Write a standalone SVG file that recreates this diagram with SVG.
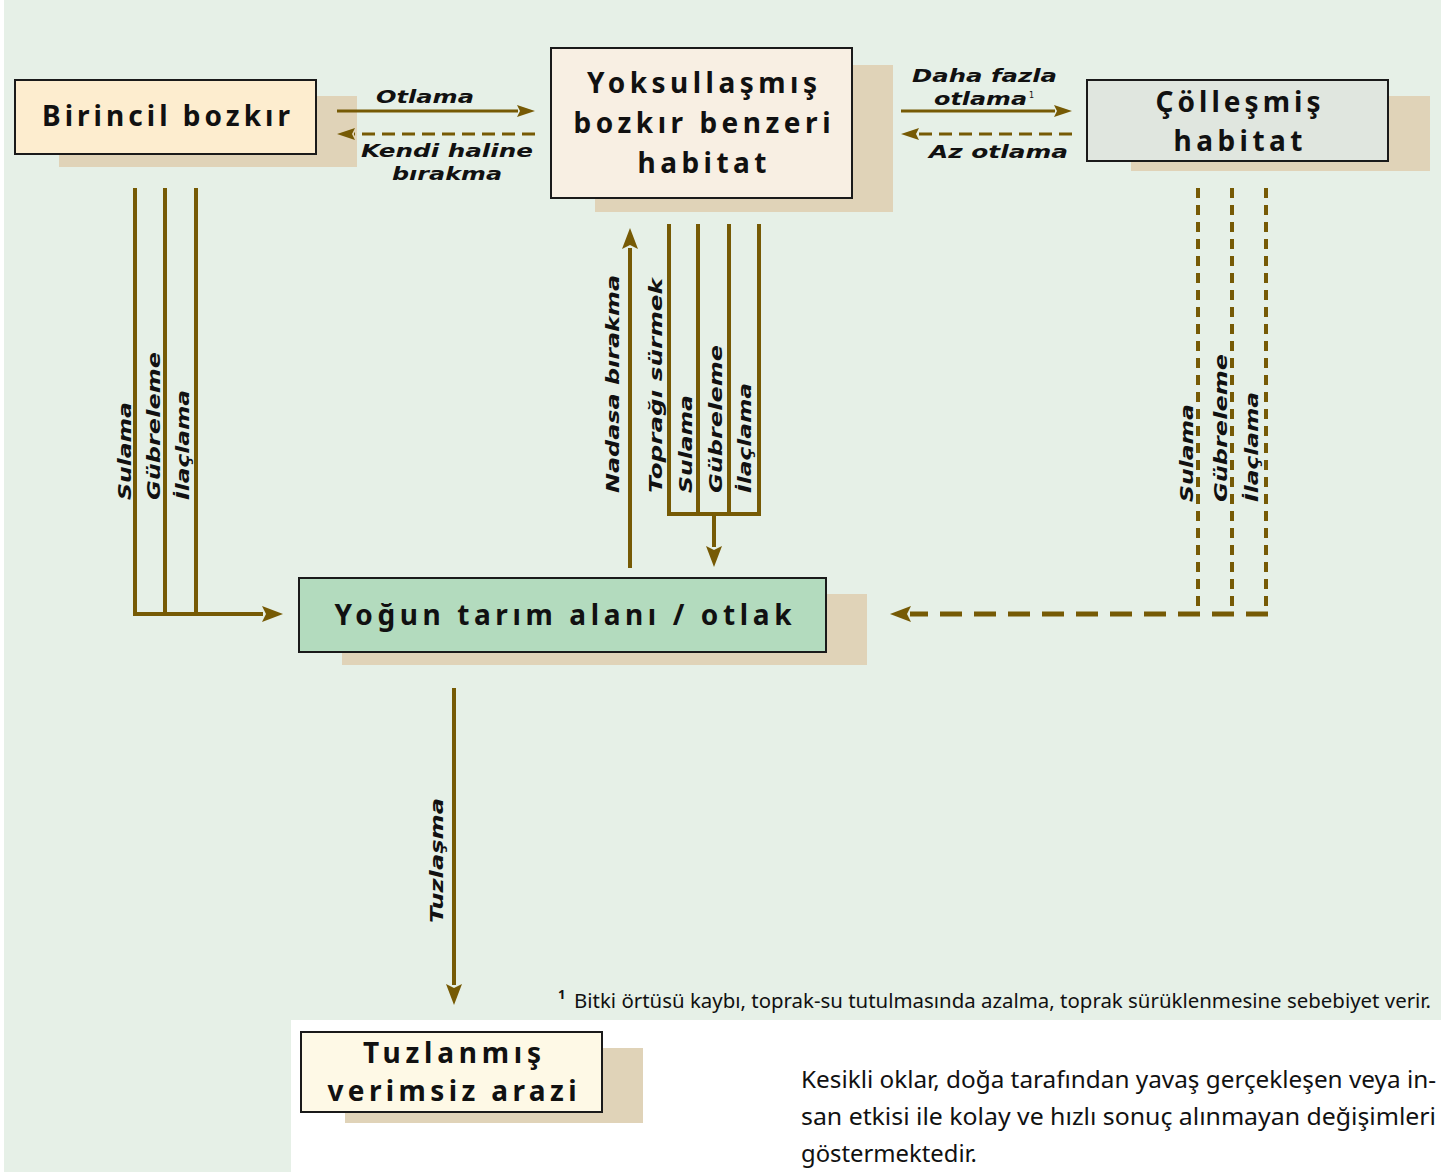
<svg xmlns="http://www.w3.org/2000/svg" width="1446" height="1172" viewBox="0 0 1446 1172">
<style>
.bg{fill:#e6f0e7}
.sh{fill:#e0d3b8}
.box{stroke:#1a1a1a;stroke-width:2}
.t{font-family:"Noto Sans","Open Sans",sans-serif;font-weight:bold;font-size:28px;fill:#111;text-anchor:middle}
.lab{font-family:"DejaVu Sans","Liberation Sans",sans-serif;font-weight:bold;font-style:italic;font-size:18px;fill:#111}
.sup{font-family:"DejaVu Sans","Liberation Sans",sans-serif;font-size:8px;fill:#111}
.ln{stroke:#765a05;fill:none}
.thin{stroke-width:3}
.thick{stroke-width:4}
.note{font-family:"Noto Sans","Open Sans",sans-serif;fill:#111}
</style>
<defs>
<marker id="ahS" viewBox="-2 -10 26 20" markerWidth="26" markerHeight="20" refX="1" refY="0" orient="auto" markerUnits="userSpaceOnUse">
<path d="M0,-6 L18,0 L0,6 L3,0 z" fill="#765a05"/>
</marker>
<marker id="ahB" viewBox="-2 -10 26 20" markerWidth="26" markerHeight="20" refX="1" refY="0" orient="auto" markerUnits="userSpaceOnUse">
<path d="M0,-8 L21,0 L0,8 L4,0 z" fill="#765a05"/>
</marker>
</defs>
<rect width="1446" height="1172" fill="#fff"/>
<rect class="bg" x="4" y="0" width="1437" height="1020"/>
<rect class="bg" x="4" y="1020" width="287" height="152"/>

<g id="birincil-bozkir">
<rect class="sh" x="59" y="96" width="298" height="71"/>
<rect class="box" x="15" y="80" width="301" height="74" fill="#fdedcf"/>
<text class="t" x="166" y="126" textLength="248" lengthAdjust="spacing">Birincil bozkır</text>
</g>
<g id="yoksullasmis">
<rect class="sh" x="595" y="65" width="298" height="147"/>
<rect class="box" x="551" y="48" width="301" height="150" fill="#f8efe3"/>
<text class="t" x="702" y="93" textLength="230" lengthAdjust="spacing">Yoksullaşmış</text>
<text class="t" x="702" y="133" textLength="257" lengthAdjust="spacing">bozkır benzeri</text>
<text class="t" x="702" y="173" textLength="129" lengthAdjust="spacing">habitat</text>
</g>
<g id="collesmis">
<rect class="sh" x="1131" y="96" width="299" height="75"/>
<rect class="box" x="1087" y="80" width="301" height="81" fill="#e0e6df"/>
<text class="t" x="1238" y="112" textLength="165" lengthAdjust="spacing">Çölleşmiş</text>
<text class="t" x="1238" y="151" textLength="129" lengthAdjust="spacing">habitat</text>
</g>
<g id="yogun-tarim">
<rect class="sh" x="342" y="594" width="525" height="71"/>
<rect class="box" x="299" y="578" width="527" height="74" fill="#b3dbbe"/>
<text class="t" x="563" y="625" textLength="457" lengthAdjust="spacing">Yoğun tarım alanı / otlak</text>
</g>
<g id="tuzlanmis">
<rect class="sh" x="345" y="1048" width="298" height="75"/>
<rect class="box" x="301" y="1032" width="301" height="80" fill="#fef9e6"/>
<text class="t" x="452" y="1063" textLength="178" lengthAdjust="spacing">Tuzlanmış</text>
<text class="t" x="452" y="1101" textLength="249" lengthAdjust="spacing">verimsiz arazi</text>
</g>

<g id="connectors">
<line class="ln thin" x1="337" y1="111" x2="518" y2="111" marker-end="url(#ahS)"/>
<line class="ln thin" x1="535" y1="134" x2="354" y2="134" stroke-dasharray="13 7" marker-end="url(#ahS)"/>
<line class="ln thin" x1="901" y1="111" x2="1055" y2="111" marker-end="url(#ahS)"/>
<line class="ln thin" x1="1072" y1="134" x2="918" y2="134" stroke-dasharray="13 7" marker-end="url(#ahS)"/>
<path class="ln thick" d="M135,188 V614 M165,188 V614 M196,188 V614"/>
<line class="ln thick" x1="133" y1="614" x2="263" y2="614" marker-end="url(#ahB)"/>
<line class="ln thick" x1="630" y1="568" x2="630" y2="248" marker-end="url(#ahB)"/>
<path class="ln thick" d="M669,224 V514 M698,224 V514 M729,224 V514 M759,224 V514 M667,514 H761"/>
<line class="ln thick" x1="714" y1="514" x2="714" y2="547" marker-end="url(#ahB)"/>
<path class="ln thick" d="M1198,188 V614 M1232,188 V614 M1266,188 V614" stroke-dasharray="10 7"/>
<line class="ln" stroke-width="5" x1="1268" y1="614" x2="910" y2="614" stroke-dasharray="22 12" marker-end="url(#ahB)"/>
<line class="ln thick" x1="454" y1="688" x2="454" y2="985" marker-end="url(#ahB)"/>
</g>

<g id="labels">
<text class="lab" x="376" y="103" textLength="98" lengthAdjust="spacingAndGlyphs">Otlama</text>
<text class="lab" x="361" y="157" textLength="172" lengthAdjust="spacingAndGlyphs">Kendi haline</text>
<text class="lab" x="392" y="180" textLength="110" lengthAdjust="spacingAndGlyphs">bırakma</text>
<text class="lab" x="912" y="82" textLength="145" lengthAdjust="spacingAndGlyphs">Daha fazla</text>
<text class="lab" x="934" y="105" textLength="93" lengthAdjust="spacingAndGlyphs">otlama</text>
<text class="sup" x="1029" y="98">1</text>
<text class="lab" x="929" y="158" textLength="139" lengthAdjust="spacingAndGlyphs">Az otlama</text>

<text class="lab" transform="translate(131,500) rotate(-90)" textLength="98" lengthAdjust="spacingAndGlyphs">Sulama</text>
<text class="lab" transform="translate(160,500) rotate(-90)" textLength="148" lengthAdjust="spacingAndGlyphs">Gübreleme</text>
<text class="lab" transform="translate(189,500) rotate(-90)" textLength="110" lengthAdjust="spacingAndGlyphs">İlaçlama</text>

<text class="lab" transform="translate(619,493) rotate(-90)" textLength="218" lengthAdjust="spacingAndGlyphs">Nadasa bırakma</text>
<text class="lab" transform="translate(662,493) rotate(-90)" textLength="215" lengthAdjust="spacingAndGlyphs">Toprağı sürmek</text>
<text class="lab" transform="translate(692,493) rotate(-90)" textLength="98" lengthAdjust="spacingAndGlyphs">Sulama</text>
<text class="lab" transform="translate(722,493) rotate(-90)" textLength="148" lengthAdjust="spacingAndGlyphs">Gübreleme</text>
<text class="lab" transform="translate(751,493) rotate(-90)" textLength="110" lengthAdjust="spacingAndGlyphs">İlaçlama</text>

<text class="lab" transform="translate(1193,502) rotate(-90)" textLength="98" lengthAdjust="spacingAndGlyphs">Sulama</text>
<text class="lab" transform="translate(1227,502) rotate(-90)" textLength="148" lengthAdjust="spacingAndGlyphs">Gübreleme</text>
<text class="lab" transform="translate(1258,502) rotate(-90)" textLength="110" lengthAdjust="spacingAndGlyphs">İlaçlama</text>

<text class="lab" transform="translate(443,923) rotate(-90)" textLength="125" lengthAdjust="spacingAndGlyphs">Tuzlaşma</text>
</g>

<g id="notes">
<text class="note" x="558" y="999" font-size="13" font-weight="bold">1</text>
<text class="note" x="574" y="1008" font-size="20" textLength="857" lengthAdjust="spacingAndGlyphs">Bitki örtüsü kaybı, toprak-su tutulmasında azalma, toprak sürüklenmesine sebebiyet verir.</text>
<text class="note" x="801" y="1088" font-size="24" textLength="635" lengthAdjust="spacingAndGlyphs">Kesikli oklar, doğa tarafından yavaş gerçekleşen veya in-</text>
<text class="note" x="801" y="1125" font-size="24" textLength="635" lengthAdjust="spacingAndGlyphs">san etkisi ile kolay ve hızlı sonuç alınmayan değişimleri</text>
<text class="note" x="801" y="1162" font-size="24" textLength="176" lengthAdjust="spacingAndGlyphs">göstermektedir.</text>
</g>
</svg>
